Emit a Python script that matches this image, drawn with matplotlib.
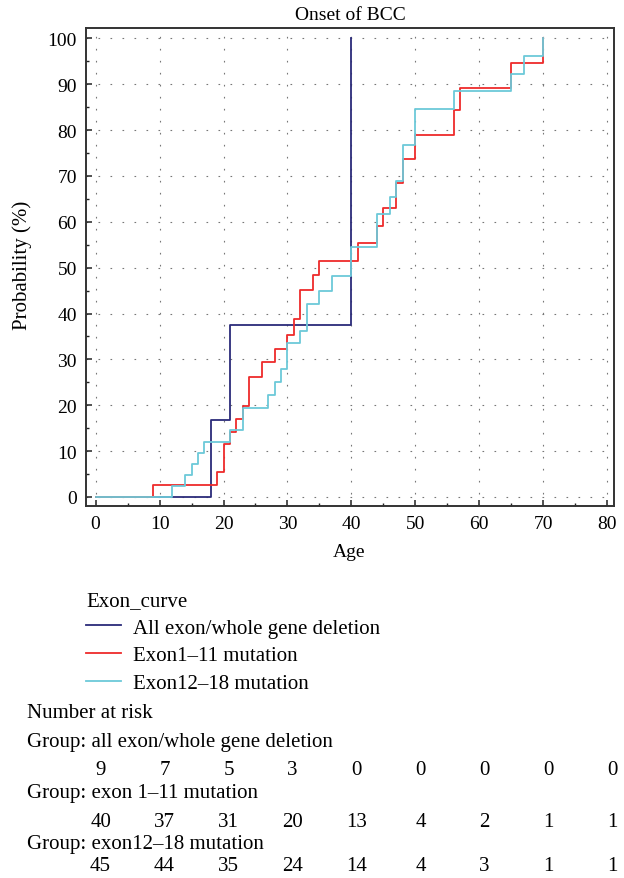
import numpy as np
import matplotlib
matplotlib.use('Agg')
import matplotlib.pyplot as plt
import matplotlib.transforms as mtransforms
from matplotlib.lines import Line2D
from matplotlib.ticker import MultipleLocator

plt.rcParams['font.family'] = ['Liberation Serif', 'DejaVu Serif']

# --- DATA ---
AGE_ALL = [0, 18, 21, 40]
PROB_ALL = [0, 16.7, 37.5, 100]

AGE_E1_11 = [0, 9, 19, 20, 21, 22, 23, 24, 26, 28, 30, 31, 32, 34, 35,
             41, 44, 45, 47, 48, 50, 56, 57, 65, 70]
PROB_E1_11 = [0, 2.6, 5.4, 11.5, 14.2, 17.0, 19.9, 26.1, 29.4, 32.2, 35.4, 38.8, 45.2, 48.5, 51.5,
              55.3, 59.0, 63.0, 68.4, 73.6, 79.0, 84.3, 89.2, 94.7, 100]

AGE_E12_18 = [0, 12, 14, 15, 16, 17, 21, 23, 27, 28, 29, 30, 32, 33, 35,
              37, 40, 44, 46, 47, 48, 50, 56, 65, 67, 70]
PROB_E12_18 = [0, 2.3, 4.7, 7.1, 9.6, 12.0, 14.6, 19.4, 22.2, 25.0, 27.9, 33.5, 36.1, 42.0, 45.0,
               48.2, 54.5, 61.6, 65.4, 69.0, 76.8, 84.6, 88.6, 92.3, 96.2, 100]

LEGEND_LABELS = ['All exon/whole gene deletion', 'Exon1–11 mutation', 'Exon12–18 mutation']
COLORS = ['#2b2b7a', '#ee2b2b', '#6cc9d9']

RISK_AGES = [0, 10, 20, 30, 40, 50, 60, 70, 80]
RISK_ALL = [9, 7, 5, 3, 0, 0, 0, 0, 0]
RISK_E1_11 = [40, 37, 31, 20, 13, 4, 2, 1, 1]
RISK_E12_18 = [45, 44, 35, 24, 14, 4, 3, 1, 1]
GROUP_LABELS = ['Group: all exon/whole gene deletion',
                'Group: exon 1–11 mutation',
                'Group: exon12–18 mutation']

W, H = 624, 879


def fx(px):
    return px / W


def fy(py):
    return 1 - py / H


fig = plt.figure(figsize=(W / 100, H / 100), dpi=100)
ax = fig.add_axes([fx(86), fy(506.7), (614 - 86) / W, (506.7 - 29.3) / H])

ax.set_xlim(-1.5, 81.05)
ax.set_ylim(-1.9, 102.2)

# grid first so curves sit on top
ax.grid(True, which='major', color='#777777', lw=0.8, linestyle=(0, (1.5, 9.3)))
ax.set_axisbelow(True)

curves = [(AGE_ALL, PROB_ALL), (AGE_E1_11, PROB_E1_11), (AGE_E12_18, PROB_E12_18)]
for (ages, probs), col in zip(curves, COLORS):
    ax.step(ages, probs, where='post', color=col, lw=1.3, zorder=3)

ax.xaxis.set_major_locator(MultipleLocator(10))
ax.xaxis.set_minor_locator(MultipleLocator(5))
ax.yaxis.set_major_locator(MultipleLocator(10))
ax.yaxis.set_minor_locator(MultipleLocator(5))
ax.tick_params(which='major', direction='in', length=4.5, width=1.1, labelsize=14,
               color='#222222', pad=6.5)
ax.tick_params(which='minor', direction='in', length=2.4, width=1.0, color='#222222')
for sp in ax.spines.values():
    sp.set_linewidth(1.4)
    sp.set_color('#333333')

ax.set_title('Onset of BCC', fontsize=14, pad=7)
fig.text(fx(349), fy(553), 'Age', fontsize=14, ha='center', va='center')
fig.text(fx(22), fy(265), 'Probability (%)', fontsize=15, ha='center', va='center',
         rotation=90)

# legend below the plot
handles = [Line2D([], [], color=c, lw=1.3) for c in COLORS]
fig.legend(handles, LEGEND_LABELS, title='Exon_curve', loc='upper left',
           bbox_to_anchor=(fx(86), fy(592)), borderaxespad=0, borderpad=0,
           handlelength=1.67, handletextpad=0.6, labelspacing=0.39,
           fontsize=15, title_fontsize=15, alignment='left', frameon=False)

# number at risk table, columns follow the age axis
col_tr = mtransforms.blended_transform_factory(
    ax.transData + mtransforms.ScaledTranslation(5 / 100, 0, fig.dpi_scale_trans),
    fig.transFigure)
fig.text(fx(27), fy(713), 'Number at risk', fontsize=15, ha='left', va='center')
rows = [RISK_ALL, RISK_E1_11, RISK_E12_18]
label_y = [742, 793.5, 845]
num_y = [771, 822.5, 867]
for lab, ly, vals, ny in zip(GROUP_LABELS, label_y, rows, num_y):
    fig.text(fx(27), fy(ly), lab, fontsize=15, ha='left', va='center')
    for age, v in zip(RISK_AGES, vals):
        fig.text(age, fy(ny), str(v), fontsize=15, ha='center', va='center',
                 transform=col_tr)

fig.savefig('out.png', dpi=100)
